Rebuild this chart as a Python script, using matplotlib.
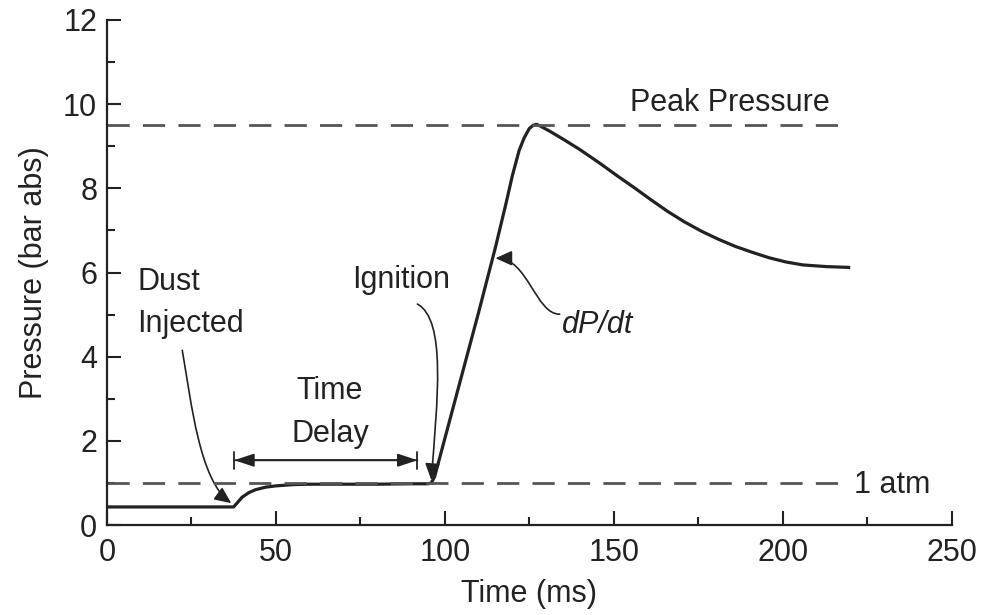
import matplotlib.pyplot as plt
from matplotlib.patches import FancyArrowPatch
from matplotlib.path import Path

# pressure trace
time_ms = [0, 37.5, 38.5, 40, 42, 44, 47, 50, 55, 60, 70, 80, 90, 95, 96,
           97, 100, 105, 110, 115, 118, 120, 122, 123.5, 125, 126.2, 127.2,
           128.5, 131, 135, 140, 146, 151, 156, 161, 166, 171, 176, 181,
           186, 191, 196, 201, 206, 213, 220]
pressure = [0.43, 0.43, 0.52, 0.66, 0.77, 0.84, 0.9, 0.93, 0.96, 0.97, 0.97, 0.97, 0.98, 0.98, 1.0,
            1.15, 2.05, 3.55, 5.05, 6.6, 7.6, 8.3, 8.9, 9.2, 9.42, 9.5, 9.52,
            9.47, 9.36, 9.17, 8.92, 8.59, 8.3, 8.02, 7.73, 7.45, 7.2, 6.98, 6.79,
            6.62, 6.48, 6.35, 6.25, 6.18, 6.14, 6.12]

peak_pressure = 9.5
atm = 1.0
dust_time = 37.7
ignition_time = 91.9

xticks = [0, 50, 100, 150, 200, 250]
yticks = [0, 2, 4, 6, 8, 10, 12]

ink = '#222222'
grey = '#555555'
plt.rcParams['font.family'] = ['Liberation Sans', 'DejaVu Sans']
plt.rcParams['lines.scale_dashes'] = False


def curved_arrow(ax, pts):
    path = Path(pts, [Path.MOVETO, Path.CURVE4, Path.CURVE4, Path.CURVE4])
    arr = FancyArrowPatch(path=path, arrowstyle='-|>,head_length=10,head_width=4.5',
                          color=ink, lw=1.2, transform=ax.transData)
    ax.add_patch(arr)


def main():
    fig = plt.figure(figsize=(9.81, 6.15), dpi=100)
    ax = fig.add_axes([0.109, 0.1463, 0.861, 0.8212])

    ax.plot(time_ms, pressure, color=ink, lw=2.3, solid_capstyle='butt')

    ax.plot([0, 217], [peak_pressure, peak_pressure], color=grey, lw=2, dashes=(16, 9.5))
    ax.plot([0, 217], [atm, atm], color=grey, lw=2, dashes=(16, 9.5))

    fs = 22
    ax.text(184.5, 10.02, 'Peak Pressure', ha='center', va='center', fontsize=fs, color=ink)
    ax.text(221, 0.95, '1 atm', ha='left', va='center', fontsize=fs, color=ink)
    ax.text(9.0, 5.27, 'Dust\nInjected', ha='left', va='center', fontsize=fs,
            color=ink, linespacing=1.52)
    ax.text(66, 2.68, 'Time\nDelay', ha='center', va='center', fontsize=fs,
            color=ink, linespacing=1.55)
    ax.text(87.2, 5.82, 'Ignition', ha='center', va='center', fontsize=fs, color=ink)
    ax.text(145.2, 4.75, 'dP/dt', ha='center', va='center', fontsize=fs,
            color=ink, style='italic')

    # time delay bracket
    ax.annotate('', xy=(ignition_time, 1.54), xytext=(dust_time, 1.54),
                arrowprops=dict(arrowstyle='<|-|>,head_length=1.2,head_width=0.4',
                                color=ink, lw=1.3, shrinkA=0, shrinkB=0))
    ax.annotate('', xy=(ignition_time, 1.54), xytext=(dust_time, 1.54),
                arrowprops=dict(arrowstyle='|-|,widthA=0.6,widthB=0.6',
                                color=ink, lw=1.3, shrinkA=0, shrinkB=0))

    curved_arrow(ax, [(22.3, 4.15), (25.0, 2.9), (27.4, 1.07), (36.8, 0.52)])
    curved_arrow(ax, [(91.9, 5.25), (100.5, 4.87), (97.8, 2.97), (96.0, 1.07)])
    curved_arrow(ax, [(134.0, 5.01), (127.0, 5.0), (124.5, 6.34), (115.0, 6.34)])

    ax.set_xlim(0, 250)
    ax.set_ylim(0, 12)
    ax.set_xticks(xticks)
    ax.set_yticks(yticks)
    ax.set_xticks(range(25, 250, 50), minor=True)
    ax.set_yticks(range(1, 12, 2), minor=True)
    ax.tick_params(which='both', direction='in', color=ink, width=1.5,
                   labelsize=fs, labelcolor=ink)
    ax.tick_params(which='major', length=10)
    ax.tick_params(axis='x', pad=9)
    ax.tick_params(axis='y', pad=7)
    ax.tick_params(which='minor', length=6)
    for side in ('top', 'right'):
        ax.spines[side].set_visible(False)
    for side in ('left', 'bottom'):
        ax.spines[side].set_color(ink)
        ax.spines[side].set_linewidth(1.6)

    ax.set_xlabel('Time (ms)', fontsize=fs, color=ink, labelpad=8)
    ax.set_ylabel('Pressure (bar abs)', fontsize=fs, color=ink, labelpad=10)

    fig.savefig('out.png')


if __name__ == '__main__':
    main()
